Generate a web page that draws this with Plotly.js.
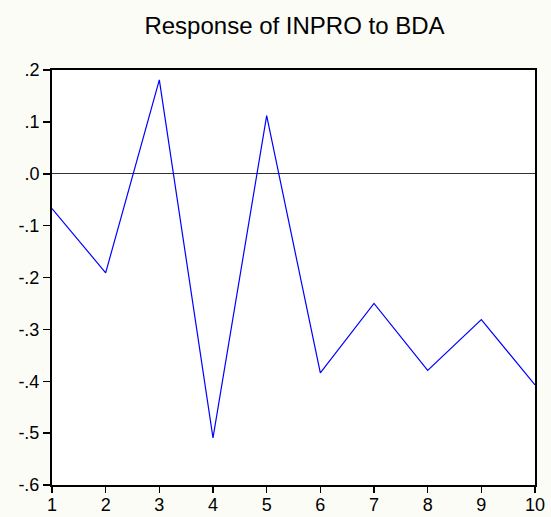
<!DOCTYPE html>
<html><head><meta charset="utf-8">
<script src="https://cdn.plot.ly/plotly-3.0.1.min.js"></script>
<style>body{margin:0;background:#fcfcf7}</style>
</head><body><div id="chart" style="width:551px;height:517px"></div>
<script>
const periods = [1,2,3,4,5,6,7,8,9,10];
const response = [-0.067,-0.191,0.181,-0.509,0.112,-0.384,-0.250,-0.379,-0.281,-0.407];
const yTickVals = [0.2,0.1,0.0,-0.1,-0.2,-0.3,-0.4,-0.5,-0.6];
const yTickText = ['.2','.1','.0','-.1','-.2','-.3','-.4','-.5','-.6'];
const titleText = 'Response of INPRO to BDA';
const fontFam = 'Liberation Sans, Arial, sans-serif';

Plotly.newPlot('chart', [{
  x: periods, y: response, type: 'scatter', mode: 'lines',
  line: {color: '#0000ff', width: 1.2}, hoverinfo: 'skip'
}], {
  width: 551, height: 517,
  paper_bgcolor: '#fcfcf7', plot_bgcolor: '#ffffff',
  margin: {l: 52, r: 16, t: 70, b: 32},
  showlegend: false,
  title: {text: titleText, x: 0.5345, xanchor: 'center', y: 0.95, yanchor: 'middle',
          font: {family: fontFam, size: 24, color: '#000'}},
  xaxis: {range: [1,10], tickvals: periods, ticks: 'outside', ticklen: 6, tickwidth: 1.5,
          tickcolor: '#000', showgrid: false, zeroline: false, showline: true, linewidth: 2,
          linecolor: '#000', mirror: true, ticklabelstandoff: -4,
          tickfont: {family: fontFam, size: 18, color: '#000'}},
  yaxis: {range: [-0.6,0.2], tickvals: yTickVals, ticktext: yTickText, ticks: 'outside', ticklen: 7,
          tickwidth: 1.5, tickcolor: '#000', showgrid: false, zeroline: true, zerolinecolor: '#333',
          zerolinewidth: 1, showline: true, linewidth: 2, linecolor: '#000', mirror: true,
          tickfont: {family: fontFam, size: 18, color: '#000'}}
}, {staticPlot: true});
</script></body></html>
